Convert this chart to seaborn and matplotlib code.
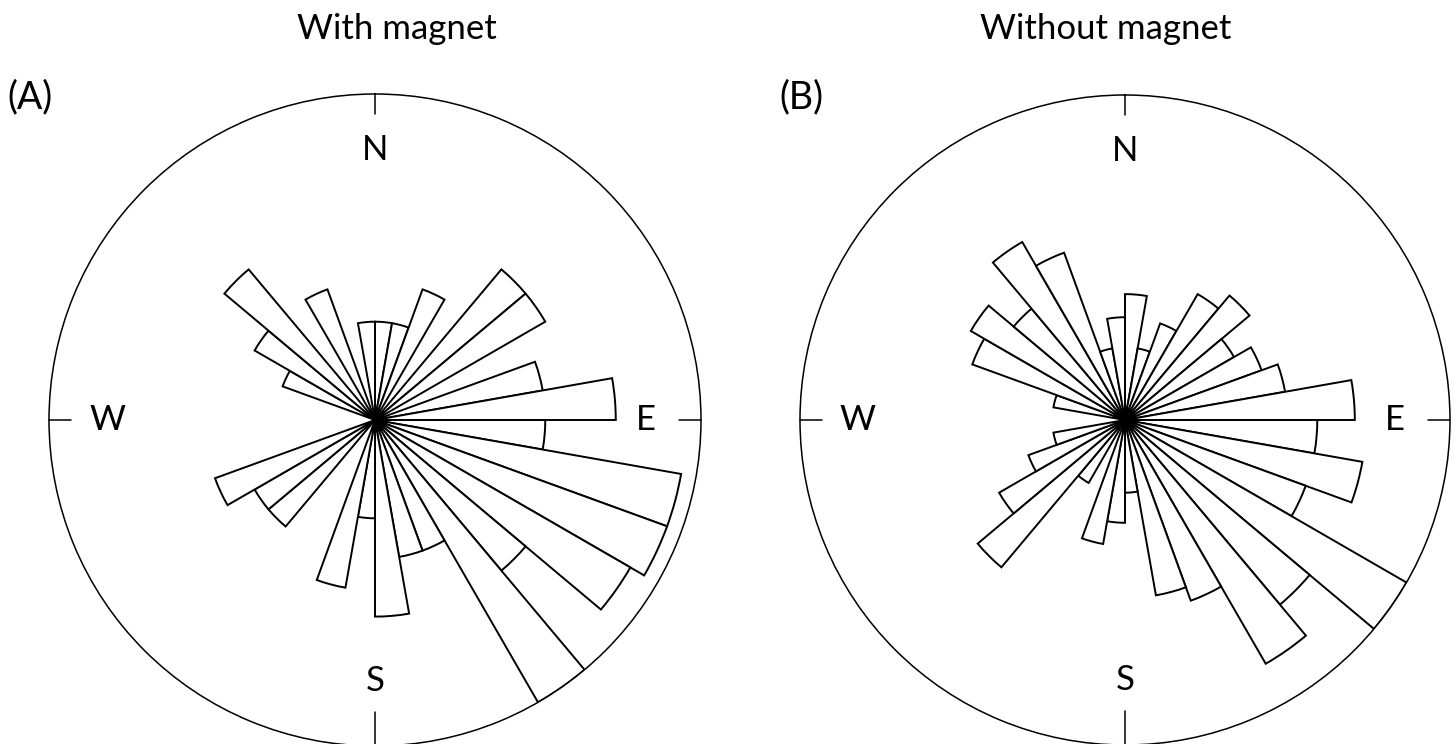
import numpy as np
import pandas as pd
import matplotlib
matplotlib.use("Agg")
import matplotlib.pyplot as plt
import seaborn as sns

# ---- data (counts per 10-degree bin, bins start at 0 deg = North, clockwise) ----
bin_start_deg = list(range(0, 360, 10))
counts_with = [1, 1, 2, 0, 4, 4, 0, 3, 6, 3, 10, 10, 9, 4, 11, 2, 2, 4,
               1, 3, 0, 0, 2, 2, 3, 0, 0, 0, 0, 1, 2, 4, 0, 2, 0, 1]
counts_without = [3, 1, 2, 4, 5, 3, 4, 5, 10, 7, 11, 7, 20, 11, 15, 7, 6, 1,
                  2, 3, 0, 1, 7, 4, 2, 1, 0, 0, 1, 5, 6, 4, 8, 6, 1, 2]
panel_titles = ["With magnet", "Without magnet"]
panel_tags = ["(A)", "(B)"]
compass_labels = ["N", "E", "S", "W"]

sns.set_theme(style="white")
plt.rcParams["font.family"] = ["Lato", "DejaVu Sans"]

W, H = 1456, 744
fig = plt.figure(figsize=(W / 100, H / 100), dpi=100)
fig.patch.set_facecolor("white")

# panel geometry in pixels: (center x, center y, radius)
geoms = [(375, 420, 326), (1125, 420, 325)]
title_pos = [(397, 39), (1106, 39)]
tag_pos = [(7, 108), (779, 108)]
label_r = {"N": 0.414, "E": 0.415, "S": 0.40, "W": 0.411}
tick_len = {"N": 20, "E": 22, "S": 34, "W": 22}
dirs = {"N": (0, 1), "E": (1, 0), "S": (0, -1), "W": (-1, 0)}

for i, counts in enumerate([counts_with, counts_without]):
    cx, cy, r = geoms[i]
    ax = fig.add_axes([(cx - r) / W, (H - cy - r) / H, 2 * r / W, 2 * r / H],
                      projection="polar")
    ax.set_theta_zero_location("N")
    ax.set_theta_direction(-1)
    ax.set_rscale("function", functions=(np.sqrt, np.square))

    df = pd.DataFrame({
        "theta": np.deg2rad(np.array(bin_start_deg) + 5.0),
        "count": counts,
    })
    sns.barplot(data=df, x="theta", y="count", native_scale=True, width=1.0,
                color="white", edgecolor="black", linewidth=1.4,
                errorbar=None, ax=ax, zorder=2)

    ax.set_xlim(0, 2 * np.pi)
    ax.set_ylim(0, max(counts))
    ax.set_xticks([])
    ax.set_yticks([])
    ax.set_xlabel("")
    ax.set_ylabel("")
    ax.grid(False)
    ax.set_facecolor("white")
    ax.spines["polar"].set_color("black")
    ax.spines["polar"].set_linewidth(1.1)

    for lab in compass_labels:
        dx, dy = dirs[lab]
        L = tick_len[lab] / (2 * r)
        ax.plot([0.5 + 0.5 * dx, 0.5 + (0.5 - L) * dx],
                [0.5 + 0.5 * dy, 0.5 + (0.5 - L) * dy],
                transform=ax.transAxes, color="black", lw=1.1,
                clip_on=False, zorder=3)
        rr = label_r[lab]
        ax.text(0.5 + rr * dx, 0.5 + rr * dy, lab, transform=ax.transAxes,
                ha="center", va="center", fontsize=25, color="black")

    tx, ty = title_pos[i]
    fig.text(tx / W, 1 - ty / H, panel_titles[i], ha="center", va="baseline",
             fontsize=25, color="black")
    gx, gy = tag_pos[i]
    fig.text(gx / W, 1 - gy / H, panel_tags[i], ha="left", va="baseline",
             fontsize=27, color="black")

fig.savefig("out.png", dpi=100, facecolor="white")
